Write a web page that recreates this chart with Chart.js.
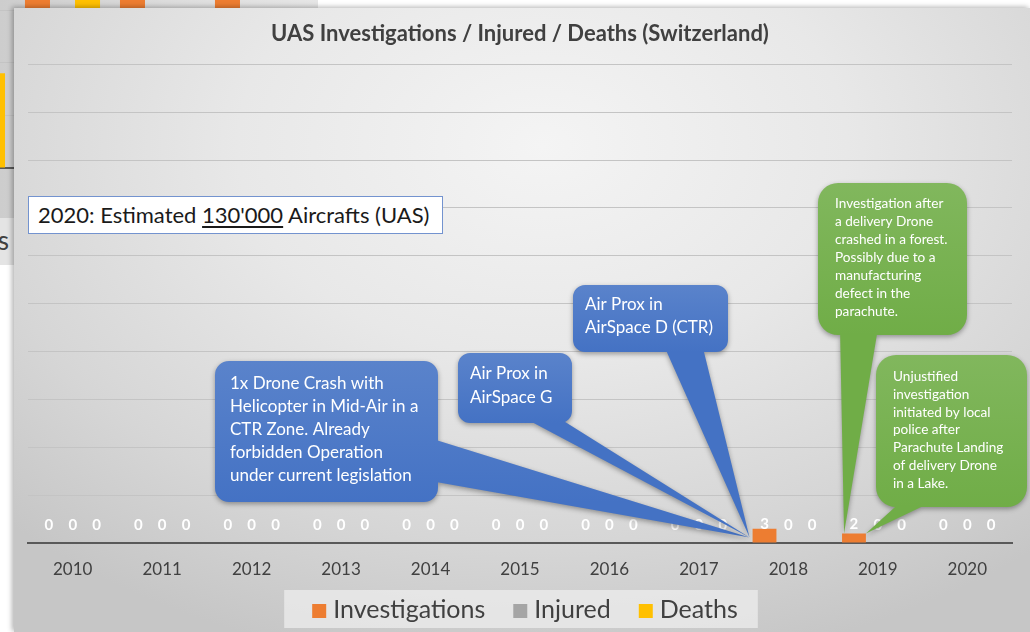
<!DOCTYPE html>
<html>
<head>
<meta charset="utf-8">
<script src="https://cdn.jsdelivr.net/npm/chart.js@4.4.1/dist/chart.umd.min.js"></script>
<style>
  html, body { margin: 0; padding: 0; width: 1030px; height: 632px; overflow: hidden; background: #fff; font-family: Lato, "Open Sans", sans-serif; }
  #other { position: absolute; left: 0; top: 0; width: 318px; height: 265px; overflow: hidden; background: linear-gradient(90deg, #cdcdcd, #dedede 60%, #e6e6e6); }
  #otherChart { position: absolute; left: -80px; top: -200px; width: 400px; height: 465px; }
  #otherLegend { position: absolute; left: 0; top: 218px; width: 40px; height: 47px; background: #e4e4e4; }
  #otherLegend span { position: absolute; right: 31px; top: 6px; font-size: 26px; color: #404040; white-space: nowrap; }
  #panel { position: absolute; left: 14px; top: 8px; width: 1016px; height: 624px;
    background: radial-gradient(ellipse 75% 85% at 52% 22%, #f4f4f4 0%, #e8e8e8 40%, #d6d6d6 75%, #c6c6c6 100%);
    box-shadow: -2px -1px 5px rgba(0,0,0,0.3); }
  #main { position: absolute; left: 0; top: 0; width: 1016px; height: 624px; }
  #note { position: absolute; left: 14px; top: 188px; width: 415px; height: 38px; box-sizing: border-box;
    background: #fff; border: 1px solid #7393cf; padding-left: 9px; font-size: 22px; line-height: 36px; color: #1a1a1a; white-space: nowrap; }
  #note u { text-underline-offset: 3px; text-decoration-thickness: 2px; }
</style>
</head>
<body>
<div id="other">
  <canvas id="otherChart" width="400" height="465"></canvas>
  <div id="otherLegend"><span>Deaths</span></div>
</div>
<div id="panel">
  <canvas id="main" width="1016" height="624"></canvas>
  <div id="note">2020: Estimated <u>130'000</u> Aircrafts (UAS)</div>
</div>
<script>
// main chart data
const years = ['2010', '2011', '2012', '2013', '2014', '2015', '2016', '2017', '2018', '2019', '2020'];
const investigations = [0, 0, 0, 0, 0, 0, 0, 0, 3, 2, 0];
const injured = [0, 0, 0, 0, 0, 0, 0, 0, 0, 0, 0];
const deaths = [0, 0, 0, 0, 0, 0, 0, 0, 0, 0, 0];
const yMax = 100;
const yStep = 10;

// the slide behind, only a strip of it shows
const otherCats = ['a', 'b', 'c', 'd'];
const otherInvestigations = [40, 45, 42, 44];
const otherInjured = [0, 0, 0, 0];
const otherDeaths = [18, 40, 0, 0];

const ORANGE = '#ED7D31', GREY = '#A5A5A5', YELLOW = '#FFC000';
const BLUE = '#4472C4', GREEN = '#70AD47';

// callout boxes, in canvas pixels; tails point at a bar (dataset, index, corner)
const callouts = [
  { box: [201, 353, 223, 141], r: 14, color: BLUE, base: [[422, 432], [422, 474]], target: [0, 8, 'baseLeft'],
    font: '17px Lato', x: 216, y: 376, lh: 23,
    lines: ['1x Drone Crash with', 'Helicopter in Mid-Air in a', 'CTR Zone. Already', 'forbidden Operation', 'under current legislation'] },
  { box: [444, 345, 114, 70], r: 12, color: BLUE, base: [[514, 412], [548, 412]], target: [0, 8, 'baseLeft'],
    font: '17px Lato', x: 456, y: 366, lh: 24, lines: ['Air Prox in', 'AirSpace G'] },
  { box: [559, 277, 155, 67], r: 12, color: BLUE, base: [[651, 340], [689, 340]], target: [0, 8, 'baseLeft'],
    font: '17px Lato', x: 571, y: 297, lh: 23, lines: ['Air Prox in', 'AirSpace D (CTR)'] },
  { box: [804, 175, 149, 152], r: 20, color: GREEN, base: [[826, 320], [864, 320]], target: [0, 9, 'topLeft'],
    font: '13.6px Lato', x: 821, y: 196, lh: 18,
    lines: ['Investigation after', 'a delivery Drone', 'crashed in a forest.', 'Possibly due to a', 'manufacturing', 'defect in the', 'parachute.'] },
  { box: [862, 347, 151, 152], r: 20, color: GREEN, base: [[891, 490], [926, 490]], target: [0, 9, 'topRight'],
    font: '13.6px Lato', x: 879, y: 369, lh: 17.7,
    lines: ['Unjustified', 'investigation', 'initiated by local', 'police after', 'Parachute Landing', 'of delivery Drone', 'in a Lake.'] }
];

function lighten(hex, amt) {
  const n = parseInt(hex.slice(1), 16);
  const c = [n >> 16, (n >> 8) & 255, n & 255].map(v => Math.round(v + (255 - v) * amt));
  return `rgb(${c[0]},${c[1]},${c[2]})`;
}

const valueLabels = {
  id: 'valueLabels',
  afterDatasetsDraw(chart) {
    const ctx = chart.ctx;
    ctx.save();
    ctx.font = 'bold 15px Lato';
    ctx.fillStyle = '#fff';
    ctx.textAlign = 'center';
    ctx.textBaseline = 'middle';
    chart.data.datasets.forEach((ds, i) => {
      chart.getDatasetMeta(i).data.forEach((bar, j) => {
        ctx.fillText(String(ds.data[j]), bar.x, bar.base - 18);
      });
    });
    ctx.restore();
  }
};

// legend drawn from the datasets, laid out like the Excel one
const bottomLegend = {
  id: 'bottomLegend',
  afterDatasetsDraw(chart) {
    const ctx = chart.ctx;
    const items = chart.data.datasets.map(ds => ({ text: ds.label, color: ds.backgroundColor }));
    ctx.save();
    ctx.font = '25px Lato';
    const sq = 14, gapText = 7, gapItem = 28;
    const widths = items.map(it => sq + gapText + ctx.measureText(it.text).width);
    const total = widths.reduce((a, b) => a + b, 0) + gapItem * (items.length - 1);
    const cy = chart.height - 22;
    let x = chart.width / 2 + 3 - total / 2;
    ctx.fillStyle = 'rgba(240,240,240,0.7)';
    ctx.fillRect(x - 28, cy - 20, total + 48, 38);
    ctx.textBaseline = 'middle';
    items.forEach((it, i) => {
      ctx.fillStyle = it.color;
      ctx.fillRect(x, cy - sq / 2 + 1, sq, sq);
      ctx.fillStyle = '#404040';
      ctx.fillText(it.text, x + sq + gapText, cy);
      x += widths[i] + gapItem;
    });
    ctx.restore();
  }
};

const calloutPlugin = {
  id: 'callouts',
  afterDraw(chart) {
    const ctx = chart.ctx;
    callouts.forEach(c => {
      const bar = chart.getDatasetMeta(c.target[0]).data[c.target[1]];
      const left = bar.x - bar.width / 2, right = bar.x + bar.width / 2;
      const tip = c.target[2] === 'baseLeft' ? [left - 3, bar.base - 5]
        : c.target[2] === 'topLeft' ? [left + 2, bar.y] : [right, bar.y];
      const [bx, by, bw, bh] = c.box;
      let a = c.base[0], b = c.base[1];
      // keep the tail clockwise like roundRect so the fill joins
      const cross = (b[0] - a[0]) * (tip[1] - a[1]) - (b[1] - a[1]) * (tip[0] - a[0]);
      if (cross < 0) { const t = a; a = b; b = t; }
      const path = new Path2D();
      path.roundRect(bx, by, bw, bh, c.r);
      path.moveTo(a[0], a[1]);
      path.lineTo(b[0], b[1]);
      path.lineTo(tip[0], tip[1]);
      path.closePath();
      const g = ctx.createLinearGradient(0, by, 0, by + bh);
      g.addColorStop(0, lighten(c.color, 0.12));
      g.addColorStop(1, c.color);
      ctx.save();
      ctx.shadowColor = 'rgba(0,0,0,0.35)';
      ctx.shadowBlur = 5;
      ctx.shadowOffsetY = 2;
      ctx.fillStyle = g;
      ctx.fill(path, 'nonzero');
      ctx.restore();
      ctx.save();
      ctx.fillStyle = '#fff';
      ctx.font = c.font;
      ctx.textBaseline = 'middle';
      c.lines.forEach((t, i) => ctx.fillText(t, c.x, c.y + i * c.lh));
      ctx.restore();
    });
  }
};

new Chart(document.getElementById('main'), {
  type: 'bar',
  data: {
    labels: years,
    datasets: [
      { label: 'Investigations', data: investigations, backgroundColor: ORANGE },
      { label: 'Injured', data: injured, backgroundColor: GREY },
      { label: 'Deaths', data: deaths, backgroundColor: YELLOW }
    ]
  },
  options: {
    responsive: false,
    animation: false,
    events: [],
    layout: { padding: { left: 14, right: 18, top: 0, bottom: 53 } },
    datasets: { bar: { barPercentage: 1, categoryPercentage: 0.8 } },
    plugins: {
      title: {
        display: true,
        text: 'UAS Investigations / Injured / Deaths (Switzerland)',
        color: '#404040',
        font: { family: 'Lato', size: 22, weight: 'bold' },
        padding: { top: 13, bottom: 17 }
      },
      legend: { display: false },
      tooltip: { enabled: false }
    },
    scales: {
      x: {
        grid: { display: false, drawTicks: false },
        border: { display: true, color: '#595959', width: 2 },
        ticks: { color: '#404040', font: { family: 'Lato', size: 17 }, padding: 16 },
        afterFit(scale) { scale.height = 36; }
      },
      y: {
        min: 0, max: yMax,
        ticks: { display: false, stepSize: yStep },
        grid: { color: '#c4c4c4', lineWidth: 1, drawTicks: false },
        border: { display: false }
      }
    }
  },
  plugins: [bottomLegend, valueLabels, calloutPlugin]
});

new Chart(document.getElementById('otherChart'), {
  type: 'bar',
  data: {
    labels: otherCats,
    datasets: [
      { data: otherInvestigations, backgroundColor: ORANGE },
      { data: otherInjured, backgroundColor: GREY },
      { data: otherDeaths, backgroundColor: YELLOW }
    ]
  },
  options: {
    responsive: false,
    animation: false,
    events: [],
    layout: { padding: { left: 0, right: 20, top: 0, bottom: 97 } },
    datasets: { bar: { barPercentage: 1, categoryPercentage: 0.79 } },
    plugins: { legend: { display: false }, title: { display: false }, tooltip: { enabled: false } },
    scales: {
      x: { ticks: { display: false }, grid: { display: false, drawTicks: false }, border: { color: '#595959', width: 2 } },
      y: { min: 0, max: 70, ticks: { display: false, stepSize: 10 }, grid: { color: '#c4c4c4', drawTicks: false }, border: { display: false } }
    }
  }
});
</script>
</body>
</html>
